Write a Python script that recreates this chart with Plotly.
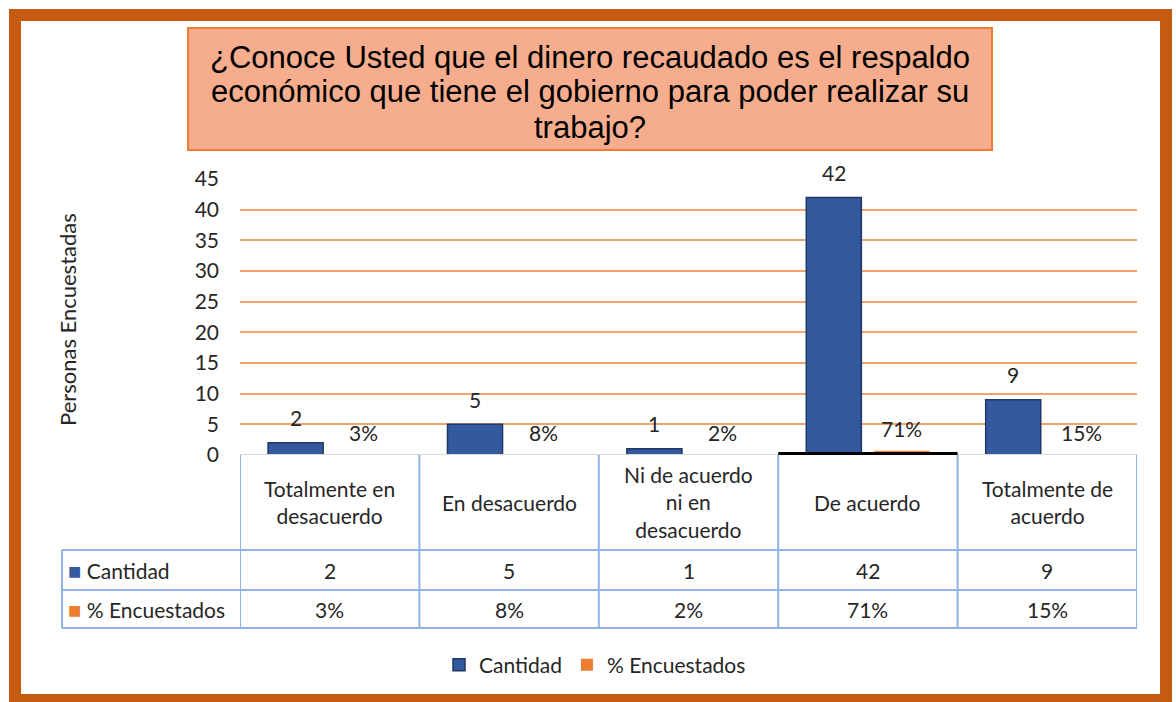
import plotly.graph_objects as go

categories = ["Totalmente en desacuerdo", "En desacuerdo", "Ni de acuerdo ni en desacuerdo",
              "De acuerdo", "Totalmente de acuerdo"]
category_labels = ["Totalmente en<br>desacuerdo", "En desacuerdo", "Ni de acuerdo<br>ni en<br>desacuerdo",
                   "De acuerdo", "Totalmente de<br>acuerdo"]
cantidad = [2, 5, 1, 42, 9]
porcentaje = [3, 8, 2, 71, 15]
y_ticks = [0, 5, 10, 15, 20, 25, 30, 35, 40, 45]
title_lines = ["¿Conoce Usted que el dinero recaudado es el respaldo",
               "económico que tiene el gobierno para poder realizar su",
               "trabajo?"]
y_title = "Personas Encuestadas"
series_names = ["Cantidad", "% Encuestados"]

W, H = 1176, 702
L, R, T, B = 240, 1137, 179, 455
PW, PH = R - L, B - T


def px(x):
    return (x - L) / PW


def py(y):
    return (B - y) / PH


FONT = "Lato, 'Open Sans', sans-serif"
FS = 21
TXT = "#262626"
BLUE = "#35599F"
ORANGE = "#ED7D31"
TABLE_LINE = "#8DB4E2"

xs = list(range(len(categories)))
OFF = 0.19
BW = 0.307

fig = go.Figure()
fig.add_trace(go.Bar(
    x=xs, y=cantidad, name=series_names[0], width=BW, offset=-OFF - BW / 2,
    marker=dict(color=BLUE, line=dict(color="#1F3864", width=1.5)),
    hoverinfo="y"))
fig.add_trace(go.Bar(
    x=xs, y=[p / 100 for p in porcentaje], name=series_names[1], width=BW, offset=OFF - BW / 2,
    marker=dict(color=ORANGE, line=dict(width=0)),
    hoverinfo="y"))

annotations = []
# data labels
for i, v in enumerate(cantidad):
    annotations.append(dict(x=i - OFF, y=v, xref="x", yref="y", text=str(v), showarrow=False,
                            yshift=25, font=dict(family=FONT, size=FS, color=TXT)))
for i, p in enumerate(porcentaje):
    annotations.append(dict(x=i + OFF, y=p / 100, xref="x", yref="y", text=f"{p}%", showarrow=False,
                            yshift=22, font=dict(family=FONT, size=FS, color=TXT)))

# data table text
for i, lab in enumerate(category_labels):
    annotations.append(dict(x=i, y=py(502), xref="x", yref="paper", text=lab, showarrow=False,
                            yanchor="middle", font=dict(family=FONT, size=FS, color=TXT)))
for i, v in enumerate(cantidad):
    annotations.append(dict(x=i, y=py(570), xref="x", yref="paper", text=str(v), showarrow=False,
                            yanchor="middle", font=dict(family=FONT, size=FS, color=TXT)))
for i, p in enumerate(porcentaje):
    annotations.append(dict(x=i, y=py(609), xref="x", yref="paper", text=f"{p}%", showarrow=False,
                            yanchor="middle", font=dict(family=FONT, size=FS, color=TXT)))
# row headers
annotations.append(dict(x=px(66), y=py(570), xref="paper", yref="paper", xanchor="left", yanchor="middle",
                        text=f"<span style='color:{BLUE};font-size:22px'>■</span> {series_names[0]}",
                        showarrow=False, font=dict(family=FONT, size=FS, color=TXT)))
annotations.append(dict(x=px(66), y=py(609), xref="paper", yref="paper", xanchor="left", yanchor="middle",
                        text=f"<span style='color:{ORANGE};font-size:22px'>■</span> {series_names[1]}",
                        showarrow=False, font=dict(family=FONT, size=FS, color=TXT)))
# y-axis title
annotations.append(dict(x=px(67), y=py(320), xref="paper", yref="paper", text=y_title, textangle=-90,
                        showarrow=False, xanchor="center", yanchor="middle",
                        font=dict(family=FONT, size=22, color=TXT)))
# chart title (one annotation per line for tighter spacing)
for line, yc in zip(title_lines, (57, 92, 127)):
    annotations.append(dict(x=px(590), y=py(yc), xref="paper", yref="paper", text=line, showarrow=False,
                            xanchor="center", yanchor="middle",
                            font=dict(family="Liberation Sans, Arial, sans-serif", size=31, color="#000000")))

shapes = []
# outer frame
shapes.append(dict(type="rect", xref="paper", yref="paper", x0=px(15), x1=px(1166), y0=py(15), y1=py(700),
                   line=dict(color="#C55A11", width=12), fillcolor="rgba(0,0,0,0)", layer="below"))
# title box
shapes.append(dict(type="rect", xref="paper", yref="paper", x0=px(188), x1=px(992), y0=py(28), y1=py(150),
                   line=dict(color=ORANGE, width=2), fillcolor="#F6AD8D", layer="below"))
# table horizontal lines
for yy in (550, 590, 628):
    shapes.append(dict(type="line", xref="paper", yref="paper", x0=px(62), x1=px(1137), y0=py(yy), y1=py(yy),
                       line=dict(color=TABLE_LINE, width=2)))
# table vertical lines at category boundaries
for i in range(len(categories) + 1):
    shapes.append(dict(type="line", xref="x", yref="paper", x0=i - 0.5, x1=i - 0.5, y0=0, y1=py(628),
                       line=dict(color=TABLE_LINE, width=2)))
shapes.append(dict(type="line", xref="paper", yref="paper", x0=px(62), x1=px(62), y0=py(550), y1=py(628),
                   line=dict(color=TABLE_LINE, width=2)))
# gray baseline over the tiny percentage bars
shapes.append(dict(type="line", xref="paper", yref="y", x0=0, x1=1, y0=0, y1=0,
                   line=dict(color="#D9D9D9", width=2)))
# black highlight line under "De acuerdo"
hi = cantidad.index(max(cantidad))
shapes.append(dict(type="line", xref="x", yref="y", x0=hi - 0.5, x1=hi + 0.5, y0=0, y1=0,
                   line=dict(color="#000000", width=6)))

fig.update_layout(
    width=W, height=H,
    margin=dict(l=L, r=W - R, t=T, b=H - B),
    paper_bgcolor="white", plot_bgcolor="white",
    barmode="overlay",
    showlegend=True,
    legend=dict(orientation="h", x=px(595), y=py(665), xanchor="center", yanchor="middle",
                font=dict(family=FONT, size=FS, color=TXT), itemwidth=30),
    xaxis=dict(range=[-0.5, len(categories) - 0.5], showticklabels=False, showgrid=False,
               zeroline=False, showline=False, fixedrange=True),
    yaxis=dict(range=[0, 45], tickvals=y_ticks, showgrid=True, gridcolor="#F4A26E", gridwidth=2,
               zeroline=False, showline=False,
               ticklabelstandoff=20, tickfont=dict(family=FONT, size=FS, color=TXT)),
    annotations=annotations,
    shapes=shapes,
)

fig.write_html("out.html", config={"displayModeBar": False},
               post_script="document.body.style.margin='0';")
